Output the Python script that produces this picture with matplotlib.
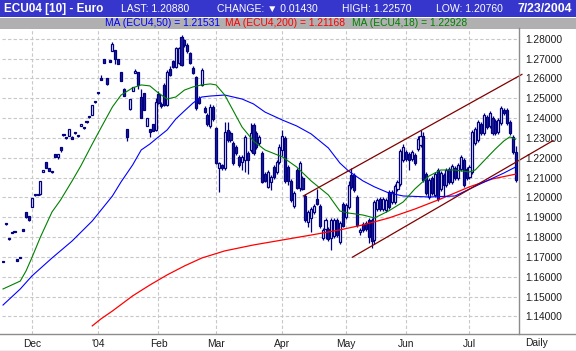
import numpy as np
import pandas as pd
import matplotlib
matplotlib.use("Agg")
import matplotlib.pyplot as plt
from matplotlib.patches import Rectangle
from matplotlib.lines import Line2D

# daily OHLC, ECU04 euro future, 17 Nov 2003 - 23 Jul 2004
opens = [
    1.1678, 1.1869, 1.1792, 1.1824, 1.1829, 1.1684, 1.1698, 1.1835, 1.1926, 1.1905,
    1.1951, 1.2014, 1.2016, 1.2016, 1.2128, 1.2178, 1.2148, 1.2131, 1.2219, 1.2204,
    1.2254, 1.2317, 1.2302, 1.2310, 1.2305, 1.2327, 1.2312, 1.2360, 1.2352, 1.2382,
    1.2407, 1.2415, 1.2483,
    1.2528, 1.2602, 1.2698, 1.2602, 1.2689, 1.2738, 1.2743, 1.2698, 1.2632, 1.2546,
    1.2345, 1.2445, 1.2536, 1.2627, 1.2632, 1.2506, 1.2526, 1.2360, 1.2345, 1.2370, 1.2340,
    1.2521, 1.2471, 1.2566, 1.2465, 1.2647, 1.2688, 1.2657, 1.2677, 1.2808, 1.2793,
    1.2770, 1.2728, 1.2652, 1.2607, 1.2501, 1.2567, 1.2451, 1.2415, 1.2360, 1.2456,
    1.2350, 1.2148, 1.2163, 1.2148, 1.2340, 1.2325, 1.2274, 1.2254, 1.2204, 1.2178,
    1.2189, 1.2224, 1.2239, 1.2365, 1.2325, 1.2274, 1.2224, 1.2118, 1.2053, 1.2078,
    1.2153, 1.2128, 1.2178,
    1.2239, 1.2300, 1.2153, 1.2083, 1.1957, 1.2138, 1.2048, 1.2098, 1.2007, 1.1877,
    1.1897, 1.1927, 1.1992, 1.1957, 1.1796, 1.1841, 1.1841, 1.1796, 1.1806, 1.1887,
    1.1776, 1.1967,
    1.1902, 1.1952, 1.2113, 1.2113, 1.2002, 1.1826, 1.1866, 1.1872, 1.1887, 1.1887,
    1.1786, 1.1942, 1.1992, 1.1942, 1.1937, 1.2027, 1.1977, 1.1977, 1.2043, 1.2068, 1.2189,
    1.2229, 1.2219, 1.2194, 1.2214, 1.2244, 1.2264, 1.2310, 1.2118, 1.2002, 1.2098,
    1.2012, 1.2138, 1.2043, 1.2113, 1.2063, 1.2143, 1.2078, 1.2148, 1.2098, 1.2143,
    1.2189, 1.2143,
    1.2103, 1.2128, 1.2274, 1.2290, 1.2370, 1.2325, 1.2405, 1.2360, 1.2400, 1.2385,
    1.2330, 1.2375, 1.2441, 1.2441, 1.2380, 1.2305, 1.2229,
]
highs = [
    1.1680, 1.1871, 1.1794, 1.1826, 1.1831, 1.1686, 1.1700, 1.1837, 1.1928, 1.1907,
    1.1999, 1.2016, 1.2018, 1.2084, 1.2140, 1.2180, 1.2150, 1.2133, 1.2221, 1.2221,
    1.2256, 1.2319, 1.2304, 1.2347, 1.2307, 1.2329, 1.2314, 1.2372, 1.2354, 1.2384,
    1.2409, 1.2467, 1.2485,
    1.2530, 1.2617, 1.2700, 1.2604, 1.2691, 1.2783, 1.2745, 1.2700, 1.2634, 1.2551,
    1.2347, 1.2498, 1.2558, 1.2647, 1.2634, 1.2546, 1.2528, 1.2402, 1.2347, 1.2372, 1.2500,
    1.2536, 1.2480, 1.2575, 1.2640, 1.2660, 1.2695, 1.2760, 1.2760, 1.2818, 1.2800,
    1.2778, 1.2735, 1.2660, 1.2612, 1.2510, 1.2652, 1.2460, 1.2425, 1.2471, 1.2465,
    1.2355, 1.2178, 1.2170, 1.2380, 1.2380, 1.2335, 1.2285, 1.2265, 1.2215, 1.2215,
    1.2315, 1.2235, 1.2375, 1.2375, 1.2335, 1.2315, 1.2235, 1.2128, 1.2138, 1.2113,
    1.2163, 1.2188, 1.2270,
    1.2340, 1.2310, 1.2163, 1.2093, 1.2032, 1.2148, 1.2185, 1.2108, 1.2017, 1.1937,
    1.1952, 1.1967, 1.2043, 1.1967, 1.1846, 1.1897, 1.1851, 1.1897, 1.1897, 1.1897,
    1.1882, 1.1977,
    1.1972, 1.2083, 1.2148, 1.2123, 1.2012, 1.1846, 1.1876, 1.1882, 1.1897, 1.1897,
    1.1987, 1.1997, 1.2002, 1.2002, 1.1997, 1.2037, 1.2037, 1.2068, 1.2088, 1.2244, 1.2270,
    1.2239, 1.2229, 1.2239, 1.2224, 1.2310, 1.2340, 1.2330, 1.2128, 1.2098, 1.2108,
    1.2128, 1.2148, 1.2133, 1.2123, 1.2148, 1.2153, 1.2168, 1.2158, 1.2173, 1.2214,
    1.2199, 1.2153,
    1.2163, 1.2340, 1.2355, 1.2390, 1.2380, 1.2425, 1.2415, 1.2435, 1.2410, 1.2395,
    1.2400, 1.2460, 1.2451, 1.2451, 1.2390, 1.2315, 1.2257,
]
lows = [
    1.1672, 1.1863, 1.1786, 1.1818, 1.1823, 1.1678, 1.1692, 1.1829, 1.1898, 1.1883,
    1.1949, 1.2008, 1.2010, 1.2014, 1.2126, 1.2146, 1.2131, 1.2125, 1.2202, 1.2194,
    1.2229, 1.2311, 1.2296, 1.2308, 1.2293, 1.2321, 1.2306, 1.2358, 1.2346, 1.2376,
    1.2401, 1.2413, 1.2477,
    1.2522, 1.2590, 1.2675, 1.2569, 1.2683, 1.2736, 1.2672, 1.2670, 1.2585, 1.2509,
    1.2284, 1.2443, 1.2534, 1.2625, 1.2546, 1.2398, 1.2438, 1.2358, 1.2305, 1.2333, 1.2335,
    1.2471, 1.2450, 1.2460, 1.2460, 1.2610, 1.2650, 1.2650, 1.2670, 1.2660, 1.2760,
    1.2730, 1.2670, 1.2620, 1.2440, 1.2470, 1.2560, 1.2425, 1.2360, 1.2350, 1.2385,
    1.2168, 1.2028, 1.2140, 1.2140, 1.2280, 1.2280, 1.2165, 1.2215, 1.2155, 1.2140,
    1.2128, 1.2120, 1.2230, 1.2215, 1.2245, 1.2265, 1.2070, 1.2075, 1.2045, 1.2038,
    1.2095, 1.2120, 1.2170,
    1.2210, 1.2073, 1.2063, 1.1975, 1.1947, 1.2040, 1.2030, 1.2035, 1.1877, 1.1851,
    1.1826, 1.1917, 1.1960, 1.1847, 1.1786, 1.1791, 1.1781, 1.1736, 1.1796, 1.1801,
    1.1766, 1.1850,
    1.1892, 1.1942, 1.2043, 1.2028, 1.1852, 1.1811, 1.1826, 1.1831, 1.1771, 1.1746,
    1.1766, 1.1932, 1.1932, 1.1932, 1.1927, 1.1942, 1.1967, 1.1967, 1.2033, 1.2058, 1.2179,
    1.2184, 1.2138, 1.2184, 1.2163, 1.2234, 1.2254, 1.2078, 1.2012, 1.1992, 1.2012,
    1.2002, 1.1982, 1.2033, 1.2002, 1.2053, 1.2068, 1.2068, 1.2088, 1.2088, 1.2133,
    1.2053, 1.2088,
    1.2093, 1.2118, 1.2264, 1.2280, 1.2315, 1.2315, 1.2345, 1.2350, 1.2315, 1.2315,
    1.2320, 1.2365, 1.2415, 1.2365, 1.2315, 1.2219, 1.2076,
]
closes = [
    1.1674, 1.1865, 1.1788, 1.1820, 1.1825, 1.1680, 1.1694, 1.1831, 1.1900, 1.1885,
    1.1997, 1.2010, 1.2012, 1.2082, 1.2138, 1.2148, 1.2133, 1.2127, 1.2204, 1.2219,
    1.2239, 1.2313, 1.2298, 1.2345, 1.2295, 1.2323, 1.2308, 1.2370, 1.2348, 1.2378,
    1.2403, 1.2465, 1.2479,
    1.2524, 1.2592, 1.2677, 1.2571, 1.2685, 1.2773, 1.2698, 1.2672, 1.2587, 1.2511,
    1.2305, 1.2496, 1.2556, 1.2637, 1.2566, 1.2400, 1.2440, 1.2400, 1.2330, 1.2335, 1.2480,
    1.2476, 1.2460, 1.2465, 1.2632, 1.2617, 1.2657, 1.2753, 1.2753, 1.2667, 1.2768,
    1.2738, 1.2677, 1.2627, 1.2451, 1.2476, 1.2642, 1.2430, 1.2370, 1.2456, 1.2395,
    1.2173, 1.2173, 1.2148, 1.2330, 1.2290, 1.2290, 1.2173, 1.2224, 1.2163, 1.2204,
    1.2305, 1.2189, 1.2325, 1.2224, 1.2254, 1.2305, 1.2078, 1.2083, 1.2128, 1.2103,
    1.2103, 1.2178, 1.2254,
    1.2310, 1.2083, 1.2083, 1.1988, 1.2022, 1.2048, 1.2173, 1.2043, 1.1887, 1.1927,
    1.1942, 1.1957, 1.1967, 1.1857, 1.1836, 1.1887, 1.1791, 1.1887, 1.1887, 1.1811,
    1.1872, 1.1857,
    1.1962, 1.2063, 1.2053, 1.2038, 1.1862, 1.1836, 1.1836, 1.1841, 1.1801, 1.1781,
    1.1977, 1.1987, 1.1942, 1.1992, 1.1987, 1.1952, 1.2027, 1.2058, 1.2078, 1.2234, 1.2254,
    1.2194, 1.2189, 1.2229, 1.2173, 1.2295, 1.2310, 1.2088, 1.2022, 1.2088, 1.2022,
    1.2118, 1.1992, 1.2123, 1.2063, 1.2138, 1.2078, 1.2158, 1.2098, 1.2163, 1.2204,
    1.2063, 1.2098,
    1.2153, 1.2330, 1.2345, 1.2380, 1.2325, 1.2415, 1.2355, 1.2425, 1.2325, 1.2325,
    1.2390, 1.2451, 1.2425, 1.2375, 1.2325, 1.2231, 1.2088,
]

# moving averages (trading-day index, value)
ma18_idx = [0, 3, 6, 8, 10, 13, 17, 20, 24, 27, 31, 34, 38, 41, 45, 48, 51, 54, 57, 60,
            63, 66, 69, 72, 74, 77, 80, 83, 87, 91, 97, 102, 107, 113, 117, 120, 125, 129,
            134, 139, 143, 148, 152, 157, 162, 164, 168, 171, 174, 176, 178]
ma18_val = [1.1538, 1.1558, 1.1578, 1.1629, 1.1695, 1.1800, 1.1926, 1.1987, 1.2083, 1.2158,
            1.2269, 1.2350, 1.2456, 1.2516, 1.2552, 1.2567, 1.2562, 1.2526, 1.2496, 1.2506,
            1.2541, 1.2557, 1.2567, 1.2572, 1.2567, 1.2516, 1.2436, 1.2355, 1.2284, 1.2239,
            1.2204, 1.2153, 1.2083, 1.2012, 1.1931, 1.1921, 1.1911, 1.1896, 1.1932, 1.1977,
            1.2042, 1.2108, 1.2138, 1.2138, 1.2128, 1.2138, 1.2199, 1.2244, 1.2285, 1.2305,
            1.2293]
ma50_idx = [0, 6, 10, 17, 24, 31, 38, 41, 45, 48, 51, 54, 57, 60, 63, 66, 69, 72, 77, 83,
            87, 91, 97, 102, 107, 113, 117, 120, 125, 129, 134, 139, 148, 157, 162, 168, 174, 178]
ma50_val = [1.1457, 1.1538, 1.1603, 1.1694, 1.1780, 1.1881, 1.2007, 1.2078, 1.2163, 1.2239,
            1.2269, 1.2305, 1.2340, 1.2395, 1.2436, 1.2476, 1.2506, 1.2511, 1.2516, 1.2496,
            1.2471, 1.2430, 1.2390, 1.2360, 1.2320, 1.2249, 1.2173, 1.2133, 1.2083, 1.2053,
            1.2022, 1.2007, 1.2002, 1.2007, 1.2042, 1.2083, 1.2123, 1.2153]
ma200_idx = [31, 34, 38, 45, 51, 57, 63, 69, 77, 87, 97, 107, 117, 125, 134, 143, 152, 162, 170, 178]
ma200_val = [1.1352, 1.1387, 1.1427, 1.1503, 1.1558, 1.1609, 1.1654, 1.1694, 1.1730, 1.1760,
             1.1785, 1.1810, 1.1836, 1.1861, 1.1896, 1.1941, 1.1992, 1.2053, 1.2093, 1.2117]

# hand-drawn trend channel (index, price)
chan_up_x = [104.3, 180.2]
chan_up_y = [1.2007, 1.2620]
chan_lo_x = [121.3, 191.0]
chan_lo_y = [1.1698, 1.2286]

y_ticks = [1.14, 1.15, 1.16, 1.17, 1.18, 1.19, 1.20, 1.21, 1.22, 1.23, 1.24, 1.25, 1.26, 1.27, 1.28]

W, H = 576, 351
NAVY = "#000080"
GRID = "#c8c8c8"
FRAME = "#8c8c8c"
TXT = "#1e1e1e"

plt.rcParams['font.family'] = ['Liberation Sans', 'DejaVu Sans']


def fx(x):
    return x / W


def fy(y):
    return 1 - y / H


fig = plt.figure(figsize=(W / 100, H / 100), dpi=100)

# title bar + MA legend bar
fig.add_artist(Rectangle((0, fy(17)), 1, 17 / H, transform=fig.transFigure,
                         facecolor="#3636cc", lw=0))
fig.add_artist(Rectangle((0, fy(29)), 1, 11 / H, transform=fig.transFigure,
                         facecolor="#b0b0b0", lw=0))

fig.text(fx(4), fy(9), "ECU04 [10] - Euro", color="white", fontsize=8.5,
         fontweight="bold", va="center", ha="left")
fig.text(fx(121), fy(9), "LAST: 1.20880", color="white", fontsize=7.5, va="center")
fig.text(fx(217), fy(9), "CHANGE: \u25bc 0.01430", color="white", fontsize=7.5, va="center")
fig.text(fx(342), fy(9), "HIGH: 1.22570", color="white", fontsize=7.5, va="center")
fig.text(fx(436), fy(9), "LOW: 1.20760", color="white", fontsize=7.5, va="center")
fig.text(fx(572), fy(9), "7/23/2004", color="white", fontsize=8.8,
         fontweight="bold", va="center", ha="right")

fig.text(fx(105), fy(23.5), "MA (ECU4,50) = 1.21531", color="#0000ff", fontsize=7.4, va="center")
fig.text(fx(225), fy(23.5), "MA (ECU4,200) = 1.21168", color="#ff0000", fontsize=7.4, va="center")
fig.text(fx(352), fy(23.5), "MA (ECU4,18) = 1.22928", color="#008000", fontsize=7.4, va="center")

ax = fig.add_axes([fx(2), fy(334), (519 - 2) / W, (334 - 28) / H])
ax.set_xlim(-0.35, 179.2)
ax.set_ylim(1.1311, 1.2854)
for s in ax.spines.values():
    s.set_visible(False)

# month ticks from the trading calendar (New Year's day closed)
dates = pd.bdate_range("2003-11-17", "2004-07-23")
dates = dates[dates != pd.Timestamp("2004-01-01")]
starts = [i for i in range(1, len(dates)) if dates[i].month != dates[i - 1].month]
labels = ["'04" if dates[i].month == 1 else dates[i].strftime("%b") for i in starts]

ax.set_xticks(starts)
ax.set_xticklabels(labels)
ax.set_yticks(y_ticks)
ax.set_yticklabels([f"{v:.5f}" for v in y_ticks])
ax.yaxis.tick_right()
ax.tick_params(axis="y", length=0, pad=4.3, labelsize=7.4, labelcolor=TXT)
ax.tick_params(axis="x", length=0, pad=3.6, labelsize=7.4, labelcolor=TXT)
ax.grid(True, color=GRID, lw=0.8, ls=(0, (3, 2)))
ax.set_axisbelow(True)

# candles
o = np.array(opens)
h = np.array(highs)
l = np.array(lows)
c = np.array(closes)
idx = np.arange(len(c))
up = c >= o
bottoms = np.minimum(o, c)
heights = np.maximum(np.abs(c - o), 0.0007)

ax.vlines(idx, l, h, color=NAVY, lw=0.9, zorder=2)
ax.bar(idx[up], heights[up], bottom=bottoms[up], width=0.72,
       facecolor="white", edgecolor=NAVY, lw=0.9, zorder=2.5)
ax.bar(idx[~up], heights[~up], bottom=bottoms[~up], width=0.72,
       facecolor="#1e1e96", edgecolor=NAVY, lw=0.9, zorder=2.5)

# moving averages
ax.plot(ma200_idx, ma200_val, color="#ff0000", lw=0.9, zorder=3)
ax.plot(ma50_idx, ma50_val, color="#0000ff", lw=0.8, zorder=3)
ax.plot(ma18_idx, ma18_val, color="#008000", lw=0.8, zorder=3)

# channel
ax.plot(chan_up_x, chan_up_y, color="#800000", lw=0.9, zorder=4, clip_on=False)
ax.plot(chan_lo_x, chan_lo_y, color="#800000", lw=0.9, zorder=4, clip_on=False)

# frame lines
fig.add_artist(Line2D([fx(519), fx(519)], [fy(28), fy(334)], transform=fig.transFigure,
                      color=FRAME, lw=1.0))
fig.add_artist(Line2D([0, 1], [fy(334), fy(334)], transform=fig.transFigure,
                      color=FRAME, lw=1.0))
fig.add_artist(Line2D([0, 1], [fy(350.5), fy(350.5)], transform=fig.transFigure,
                      color="#b0b0b0", lw=1.0))
fig.text(fx(536), fy(343.5), "Daily", fontsize=7.4, color=TXT, ha="center", va="center")

fig.savefig("out.png", dpi=100)
